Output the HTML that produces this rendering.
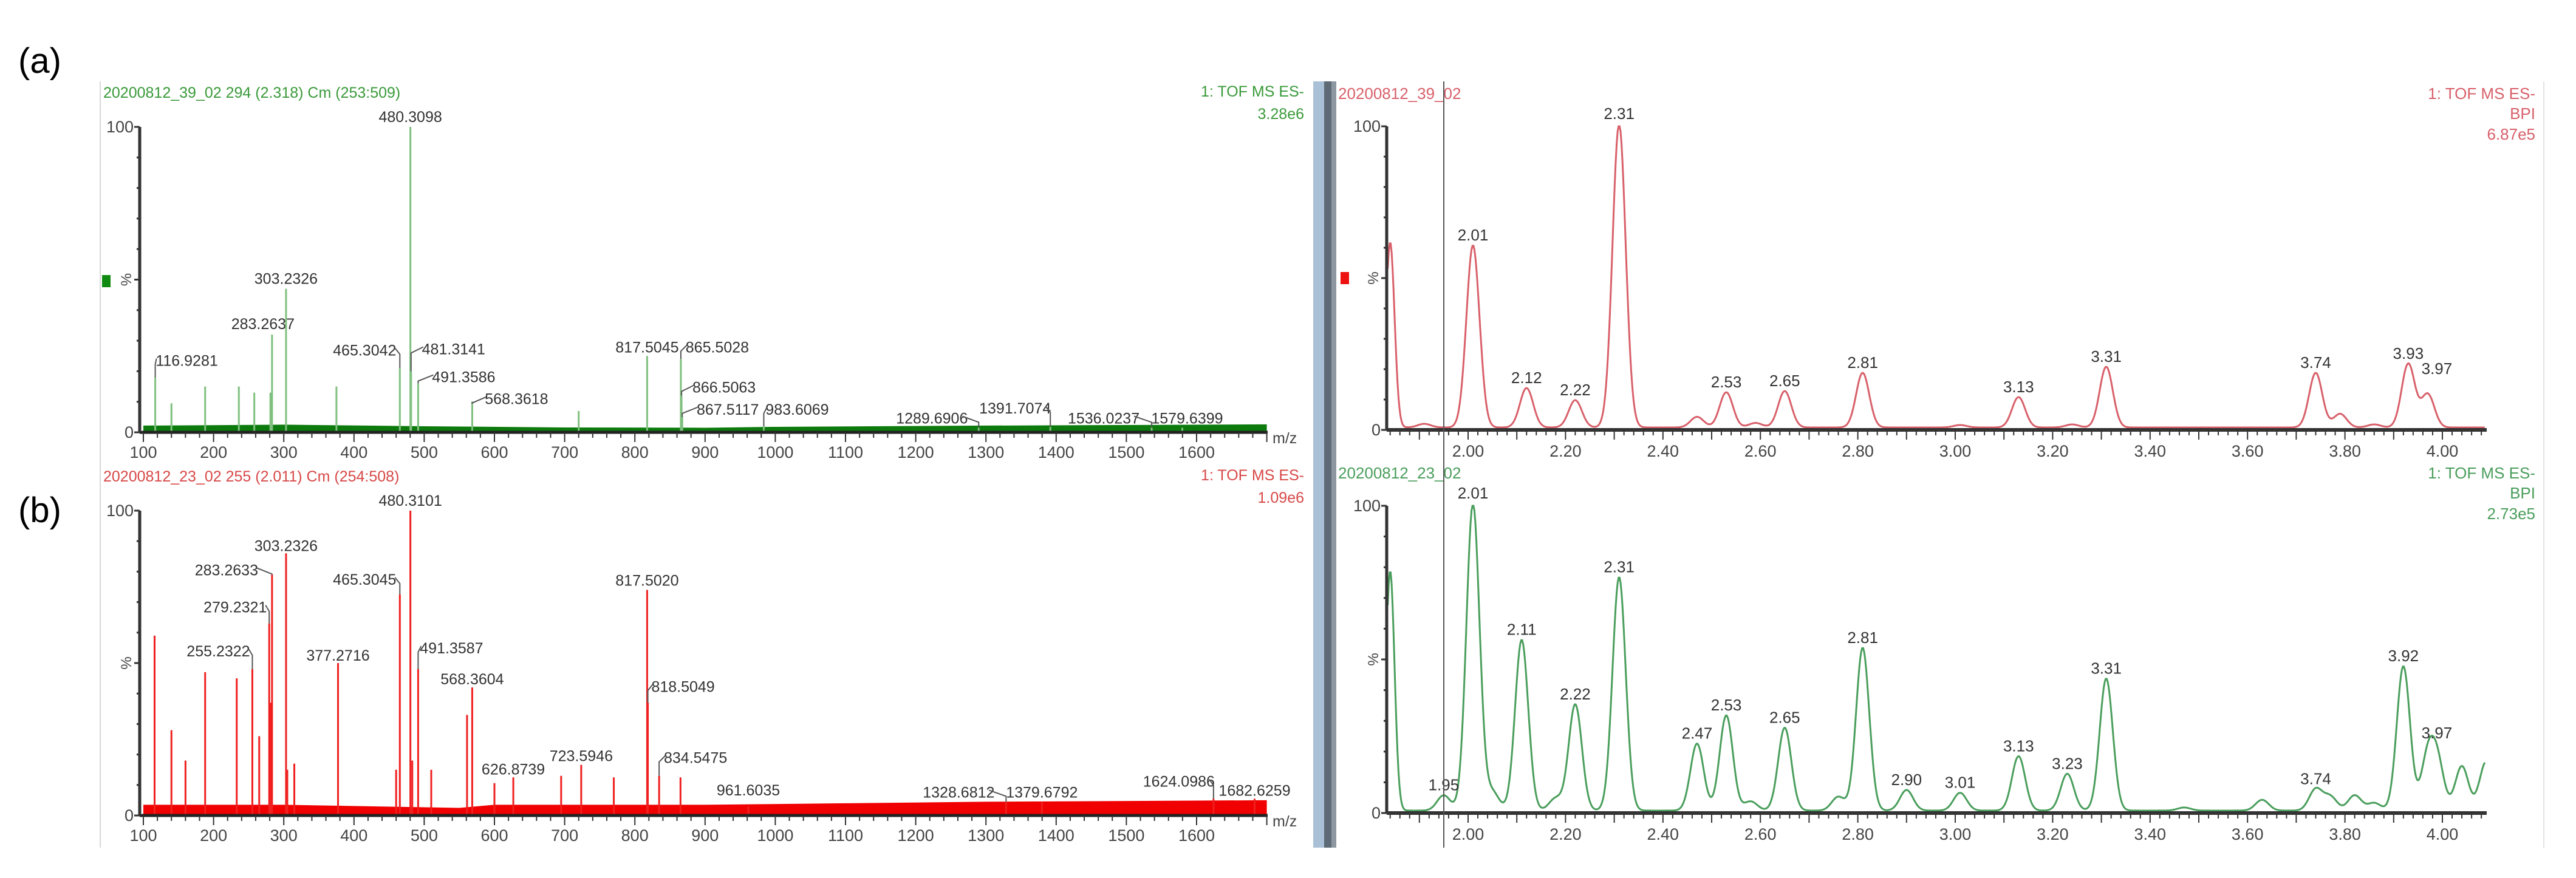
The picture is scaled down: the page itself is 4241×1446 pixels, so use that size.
<!DOCTYPE html>
<html><head><meta charset="utf-8"><style>
html,body{margin:0;padding:0;background:#fff;}
svg{display:block;font-family:"Liberation Sans",sans-serif;}
</style></head><body>
<svg id="fig" width="4241" height="1446" viewBox="0 0 4241 1446" xmlns="http://www.w3.org/2000/svg">
<rect x="0" y="0" width="4241" height="1446" fill="#fff"/>
<text x="30" y="120" font-size="58" fill="#000">(a)</text>
<text x="30" y="860" font-size="58" fill="#000">(b)</text>
<line x1="165" y1="134" x2="165" y2="1396" stroke="#d8d8d8" stroke-width="2"/>
<line x1="4188" y1="134" x2="4188" y2="1396" stroke="#e4e4e4" stroke-width="2"/>
<g>
<rect x="2162" y="134" width="18" height="1262" fill="#a9c0d6"/>
<rect x="2180" y="134" width="12" height="1262" fill="#5e6a76"/>
<rect x="2192" y="134" width="8" height="1262" fill="#8d97a1"/>
</g>
<g id="specA"></g>
<g id="specB"></g>
<g id="chromA"></g>
<g id="chromB"></g>
<line x1="2377" y1="134" x2="2377" y2="1396" stroke="#555" stroke-width="2"/>
</svg>
<script>
// ---------- Spectrum (a) data ----------
const specA_mz = [116.9281,140,188,236,258,283.2637,281,303.2326,375,465.3042,480.3098,481.3141,491.3586,568.3618,720,817.5045,865.5028,866.5063,867.5117,983.6069,1289.6906,1391.7074,1536.0237,1579.6399];
const specA_int = [18,9.5,15,15,13,32,13,47,15,21,100,20,16,10,7,25,24,12,5,2,1.5,1.8,1.5,1.5];
const specA_lab = ["116.9281","","","","","283.2637","","303.2326","","465.3042","480.3098","481.3141","491.3586","568.3618","","817.5045","865.5028","866.5063","867.5117","983.6069","1289.6906","1391.7074","1536.0237","1579.6399"];
const specA_noise_mz = [100,300,500,700,900,1000,1300,1700];
const specA_noise = [2.2,2.5,2,1.6,1.5,1.8,2.2,2.6];
// ---------- Spectrum (b) data ----------
const specB_mz = [116,140,160,188,233,255.2322,265,279.2321,281,283.2633,303.2326,305,315,377.2716,460,465.3045,480.3101,483,491.3587,510,561,568.3604,600,626.8739,695,723.5946,770,817.502,818.5049,834.5475,865,961.6035,1328.6812,1379.6792,1624.0986,1682.6259];
const specB_int = [59,28,18,47,45,48,26,63,37,79,86,15,17,50,15,72.5,100,18,48,15,33,42,10.6,12.5,13,16.6,12.5,74,37,13,12.5,3,4.5,4.5,5.5,5.5];
const specB_lab = ["","","","","","255.2322","","279.2321","","283.2633","303.2326","","","377.2716","","465.3045","480.3101","","491.3587","","","568.3604","","626.8739","","723.5946","","817.5020","818.5049","834.5475","","961.6035","1328.6812","1379.6792","1624.0986","1682.6259"];
const specB_noise_mz = [100,300,550,600,900,1100,1300,1700];
const specB_noise = [3.5,3.5,2.5,3.5,3.5,4,4.5,5];
const mzTicks = [100,200,300,400,500,600,700,800,900,1000,1100,1200,1300,1400,1500,1600];
// label layout offsets [dx, dy] (layout only)
const labA_off = {"116.9281":[52,-19],"283.2637":[-15,-9],"465.3042":[-58,-21],"481.3141":[70,-28],"491.3586":[75,-2],"568.3618":[73,4],"817.5045":[0,-6],"865.5028":[60,-11],"866.5063":[70,-5],"867.5117":[75,-4],"983.6069":[55,-19],"1289.6906":[-77,-7],"1391.7074":[-58,-22],"1536.0237":[-79,-7],"1579.6399":[8,-7]};
const labB_off = {"255.2322":[-56,-21],"279.2321":[-56,-18],"283.2633":[-75,1],"303.2326":[0,-4],"377.2716":[0,-4],"465.3045":[-58,-16],"480.3101":[0,-8],"491.3587":[55,-26],"568.3604":[0,-5],"626.8739":[0,-5],"723.5946":[0,-6],"817.5020":[0,-7],"818.5049":[58,-18],"834.5475":[60,-21],"961.6035":[0,-18],"1328.6812":[-78,-7],"1379.6792":[0,-7],"1624.0986":[-57,-20],"1682.6259":[0,-5]};
// ---------- Chromatogram (a) data ----------
const chromA_rt = [1.84,1.91,2.01,2.12,2.22,2.31,2.47,2.53,2.59,2.65,2.81,3.01,3.13,3.24,3.31,3.74,3.79,3.86,3.93,3.97];
const chromA_int = [61,1.2,60,13,9,100,3.5,11.6,1.5,12,18,0.8,10,1,20,18,4.5,1,21,11];
const chromA_lab = ["","","2.01","2.12","2.22","2.31","","2.53","","2.65","2.81","","3.13","","3.31","3.74","","","3.93","3.97"];
// ---------- Chromatogram (b) data ----------
const chromB_rt = [1.84,1.95,2.01,2.05,2.11,2.18,2.22,2.31,2.47,2.53,2.58,2.65,2.76,2.81,2.90,3.01,3.13,3.23,3.31,3.47,3.63,3.74,3.77,3.82,3.86,3.92,3.97,3.99,4.04,4.09];
const chromB_int = [78,5,100,6,55.6,4,34.6,76,21.8,31,3,27,4.5,53,6.7,5.8,17.7,12,43,1,3.5,7,4.5,5,2.5,47,17,15,14.5,16];
const chromB_lab = ["","1.95","2.01","","2.11","","2.22","2.31","2.47","2.53","","2.65","","2.81","2.90","3.01","3.13","3.23","3.31","","","3.74","","","","3.92","3.97","","",""];
const rtTicks = [2.00,2.20,2.40,2.60,2.80,3.00,3.20,3.40,3.60,3.80,4.00];

const NS="http://www.w3.org/2000/svg";
function el(parent,tag,attrs){const e=document.createElementNS(NS,tag);for(const k in attrs)e.setAttribute(k,attrs[k]);parent.appendChild(e);return e;}
function txt(parent,x,y,s,size,fill,anchor){const t=el(parent,'text',{x:x,y:y,'font-size':size,fill:fill,'text-anchor':anchor||'start'});t.textContent=s;return t;}

function yAxis(g,x,y0,y100){
  const ax=el(g,'line',{x1:x,y1:y100,x2:x,y2:y0,stroke:'#333','stroke-width':5});
  
  
  for(let v=0;v<=100;v+=10){const y=y0-(y0-y100)*v/100;
    const tk=el(g,'line',{x1:x-(v%50==0?9:5),y1:y,x2:x,y2:y,stroke:'#333','stroke-width':3});
    
    }
  const t1=txt(g,x-10,y100+9,'100',27,'#444','end');
  
  
  const t0=txt(g,x-10,y0+9,'0',27,'#444','end');
  
  
  const ym=(y0+y100)/2;
  const p=txt(g,0,0,'%',24,'#444','middle');
  p.setAttribute('transform','translate('+(x-14)+','+ym+') rotate(-90)');
  
  
}

function spectrum(id,mz,inten,labs,off,nmz,nv,y0,y100,barCol,noiseCol,hdr,hdrCol,scaleTxt){
  const g=document.getElementById(id);
  const sx=m=>236+(m-100)*1.156;
  const sy=v=>y0-(y0-y100)*v/100;
  const h=txt(g,170,y100-48,hdr,25,hdrCol);
  
  
  const r1=txt(g,2147,y100-50,'1: TOF MS ES-',25,hdrCol,'end');
  
  
  const r2=txt(g,2147,y100-13,scaleTxt,25,hdrCol,'end');
  
  
  let pts=[];for(let i=0;i<nmz.length;i++)pts.push(sx(nmz[i])+','+sy(nv[i]));
  pts.push(sx(nmz[nmz.length-1])+','+y0);pts.push(sx(nmz[0])+','+y0);
  const nb=el(g,'polygon',{points:pts.join(' '),fill:noiseCol});
  
  
  for(let i=0;i<mz.length;i++){
    const bx=sx(mz[i]),top=sy(inten[i]);
    const b=el(g,'line',{x1:bx,y1:y0,x2:bx,y2:top,stroke:barCol,'stroke-width':3});
    
    
    if(labs[i]){const o=off[labs[i]]||[0,-8];
      const lx=bx+o[0],ly=top+o[1];
      const l=txt(g,lx,ly,labs[i],25,'#333','middle');
      
      
      if(Math.abs(o[0])>20){const ex=lx-Math.sign(o[0])*50;
        const ld=el(g,'polyline',{points:bx+','+top+' '+bx+','+(ly-2)+' '+ex+','+(ly-12),fill:'none',stroke:'#555','stroke-width':2});
        
        }
    }
  }
  const ax=el(g,'line',{x1:230,y1:y0,x2:2087,y2:y0,stroke:'#222','stroke-width':5});
  
  
  for(let m=100;m<=1700;m+=20){const x=sx(m);
    const tk=el(g,'line',{x1:x,y1:y0,x2:x,y2:y0+(m%100==0?16:9),stroke:'#333','stroke-width':2});
    
    }
  mzTicks.forEach(m=>{const t=txt(g,sx(m),y0+42,String(m),27,'#444','middle');
    
    });
  const mzl=txt(g,2095,y0+18,'m/z',25,'#444');
  
  
  yAxis(g,230,y0,y100);
}

function chrom(id,rt,inten,labs,y0,y100,col,hdr,scaleTxt,marker){
  const g=document.getElementById(id);
  const tx=t=>2417+(t-2)*802;
  const sy=v=>y0-(y0-y100)*v/100;
  const h=txt(g,2203,y100-45,hdr,26,col);
  
  
  [['1: TOF MS ES-',-45],['BPI',-12],[scaleTxt,22]].forEach(a=>{const t=txt(g,4174,y100+a[1],a[0],26,col,'end');
    
    });
  const sig=0.0135;let d='';
  for(let t=1.835;t<=4.088;t+=0.002){let v=0.8;
    for(let i=0;i<rt.length;i++){const z=(t-rt[i])/(i==0?0.009:sig);v+=inten[i]*Math.exp(-0.5*z*z);}
    v=Math.min(v,100);d+=(d?'L':'M')+tx(t).toFixed(1)+','+sy(v).toFixed(1);}
  const p=el(g,'path',{d:d,fill:'none',stroke:col,'stroke-width':3});
  
  
  for(let i=0;i<rt.length;i++){if(!labs[i])continue;
    const l=txt(g,tx(rt[i])+(labs[i]=='3.97'?15:0),sy(inten[i])-12-(labs[i]=='3.97'?25:0),labs[i],26,'#333','middle');
    
    }
  const ax=el(g,'line',{x1:2283,y1:y0,x2:4094,y2:y0,stroke:'#333','stroke-width':6});
  
  
  for(let k=92;k<=204;k++){const t=k/50;const x=tx(t);if(x<2285||x>4094)continue;
    const major=(k%5==0);
    const tk=el(g,'line',{x1:x,y1:y0,x2:x,y2:y0+(major?16:9),stroke:'#333','stroke-width':2});
    
    }
  rtTicks.forEach(t=>{const l=txt(g,tx(t),y0+44,t.toFixed(2),27,'#444','middle');
    
    });
  yAxis(g,2283,y0,y100);
  if(marker){const m=el(g,'rect',{x:2207,y:(y0+y100)/2-10,width:14,height:20,fill:marker});
    
    }
}

spectrum('specA',specA_mz,specA_int,specA_lab,labA_off,specA_noise_mz,specA_noise,712,209,'#7fc07f','#0c7a0c','20200812_39_02 294 (2.318) Cm (253:509)','#3a9a3a','3.28e6');
spectrum('specB',specB_mz,specB_int,specB_lab,labB_off,specB_noise_mz,specB_noise,1343,841,'#f02020','#f00000','20200812_23_02 255 (2.011) Cm (254:508)','#d84848','1.09e6');
const mk=el(document.getElementById('specA'),'rect',{x:168,y:453,width:14,height:20,fill:'#108a10'});


chrom('chromA',chromA_rt,chromA_int,chromA_lab,708,208,'#d8606a','20200812_39_02','6.87e5','#ee1111');
chrom('chromB',chromB_rt,chromB_int,chromB_lab,1339,833,'#4a9e5c','20200812_23_02','2.73e5',null);
</script>
</body></html>
